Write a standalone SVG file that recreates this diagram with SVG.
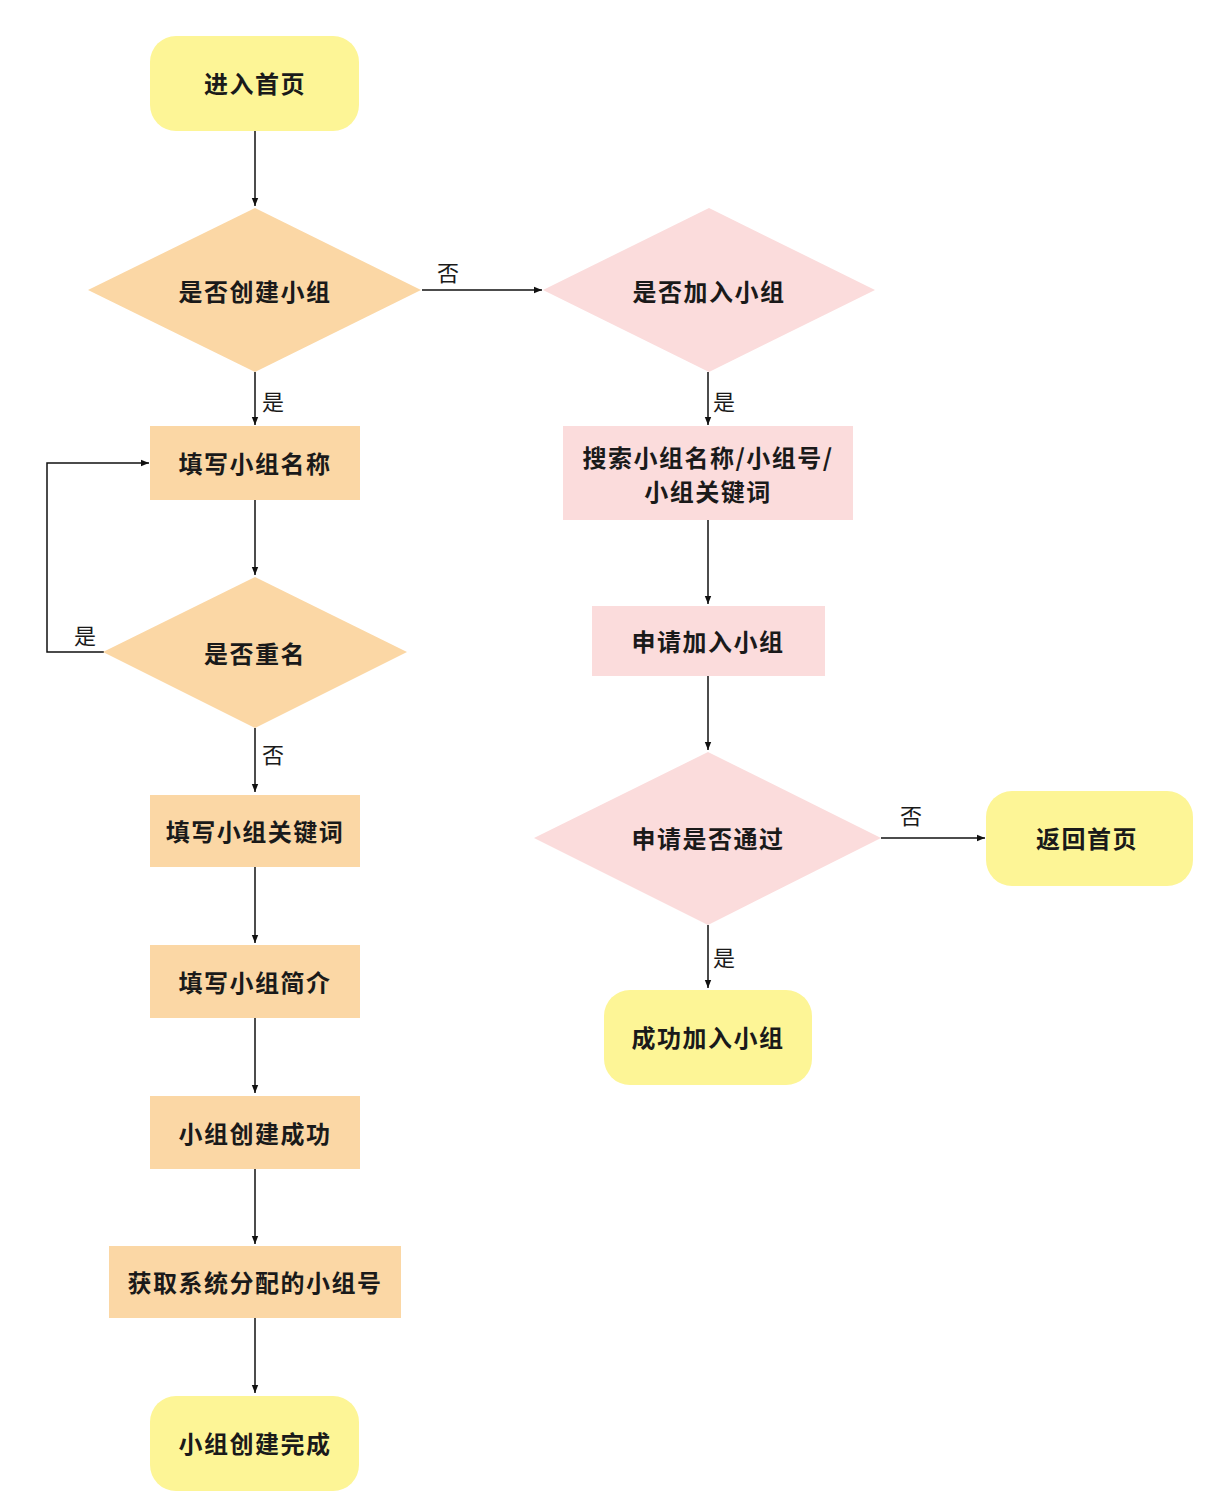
<svg xmlns="http://www.w3.org/2000/svg" width="1227" height="1503" viewBox="0 0 1227 1503">
<defs>
<style>
.y{fill:#FDF596}
.o{fill:#FBD7A5}
.p{fill:#FBDCDC}
.t{font-family:"Noto Sans CJK SC","Noto Sans",sans-serif;font-size:24px;font-weight:bold;letter-spacing:1.5px;fill:#1a1a1a;text-anchor:middle;dominant-baseline:central}
.l{font-family:"Noto Sans CJK SC","Noto Sans",sans-serif;font-size:22px;fill:#1a1a1a;text-anchor:middle;dominant-baseline:central}
.c{fill:none;stroke:#111;stroke-width:1.5}
</style>
<marker id="a" viewBox="0 0 10 10" refX="10" refY="5" markerWidth="8" markerHeight="8" markerUnits="userSpaceOnUse" orient="auto">
<path d="M0,1 L10,5 L0,9 Z" fill="#111"/>
</marker>
</defs>
<rect width="1227" height="1503" fill="#fff"/>

<g id="connectors">
<path class="c" d="M255,131 V206" marker-end="url(#a)"/>
<path class="c" d="M422,290 H542" marker-end="url(#a)"/>
<path class="c" d="M255,372 V425" marker-end="url(#a)"/>
<path class="c" d="M255,500 V575" marker-end="url(#a)"/>
<path class="c" d="M104,652 H47 V463 H149" marker-end="url(#a)"/>
<path class="c" d="M255,728 V792" marker-end="url(#a)"/>
<path class="c" d="M255,867 V943" marker-end="url(#a)"/>
<path class="c" d="M255,1018 V1093" marker-end="url(#a)"/>
<path class="c" d="M255,1169 V1244" marker-end="url(#a)"/>
<path class="c" d="M255,1318 V1393" marker-end="url(#a)"/>
<path class="c" d="M708,372 V425" marker-end="url(#a)"/>
<path class="c" d="M708,520 V604" marker-end="url(#a)"/>
<path class="c" d="M708,676 V750" marker-end="url(#a)"/>
<path class="c" d="M881,838 H985" marker-end="url(#a)"/>
<path class="c" d="M708,925 V988" marker-end="url(#a)"/>
<text class="l" x="448" y="271">否</text>
<text class="l" x="273" y="400">是</text>
<text class="l" x="85" y="634">是</text>
<text class="l" x="273" y="753">否</text>
<text class="l" x="724" y="400">是</text>
<text class="l" x="911" y="814">否</text>
<text class="l" x="724" y="956">是</text>
</g>

<g id="n_start"><rect class="y" x="150" y="36" width="209" height="95" rx="26"/><text class="t" x="255" y="82">进入首页</text></g>
<g id="n_create"><polygon class="o" points="255,208 421,290 255,372 88,290"/><text class="t" x="255" y="290">是否创建小组</text></g>
<g id="n_join"><polygon class="p" points="709,208 875,290 709,372 543,290"/><text class="t" x="709" y="290">是否加入小组</text></g>
<g id="n_name"><rect class="o" x="150" y="426" width="210" height="74"/><text class="t" x="255" y="462">填写小组名称</text></g>
<g id="n_dup"><polygon class="o" points="255,577 407,652 255,728 103,652"/><text class="t" x="255" y="652">是否重名</text></g>
<g id="n_kw"><rect class="o" x="150" y="795" width="210" height="72"/><text class="t" x="255" y="830">填写小组关键词</text></g>
<g id="n_intro"><rect class="o" x="150" y="945" width="210" height="73"/><text class="t" x="255" y="981">填写小组简介</text></g>
<g id="n_ok"><rect class="o" x="150" y="1096" width="210" height="73"/><text class="t" x="255" y="1132">小组创建成功</text></g>
<g id="n_num"><rect class="o" x="109" y="1246" width="292" height="72"/><text class="t" x="255" y="1281">获取系统分配的小组号</text></g>
<g id="n_done"><rect class="y" x="150" y="1396" width="209" height="95" rx="26"/><text class="t" x="255" y="1442">小组创建完成</text></g>
<g id="n_search"><rect class="p" x="563" y="426" width="290" height="94"/><text class="t" x="708" y="456">搜索小组名称/小组号/</text><text class="t" x="708" y="490">小组关键词</text></g>
<g id="n_apply"><rect class="p" x="592" y="606" width="233" height="70"/><text class="t" x="708" y="640">申请加入小组</text></g>
<g id="n_pass"><polygon class="p" points="708,752 881,838 708,925 534,838"/><text class="t" x="708" y="837">申请是否通过</text></g>
<g id="n_back"><rect class="y" x="986" y="791" width="207" height="95" rx="26"/><text class="t" x="1087" y="837">返回首页</text></g>
<g id="n_joined"><rect class="y" x="604" y="990" width="208" height="95" rx="26"/><text class="t" x="708" y="1036">成功加入小组</text></g>
</svg>
